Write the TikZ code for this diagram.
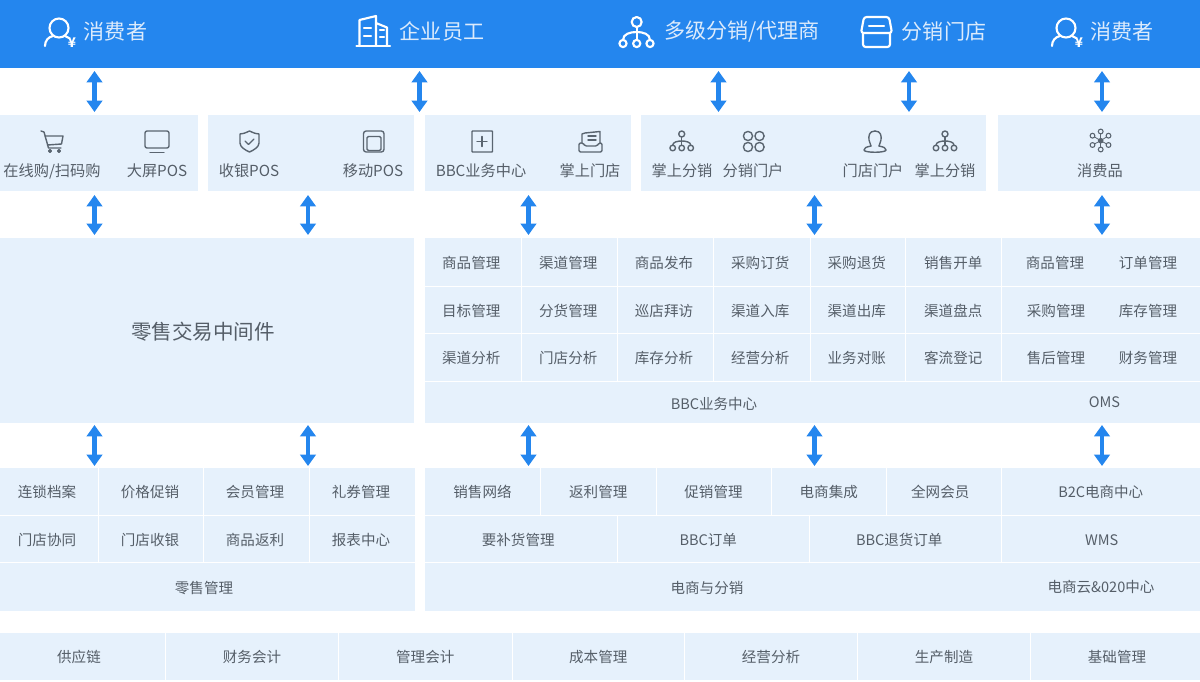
\documentclass[tikz,border=0pt]{standalone}
\usepackage{fontspec}
\setmainfont{Noto Sans CJK SC}
\usetikzlibrary{arrows.meta}
\definecolor{hdr}{HTML}{2486EE}
\definecolor{hdrtxt}{HTML}{DCEBFC}
\definecolor{panel}{HTML}{E6F1FC}
\definecolor{ink}{HTML}{555E68}
\definecolor{ico}{HTML}{5A6570}
\tikzset{
 cellbox/.style={fill=panel,draw=none,inner sep=0pt,outer sep=0pt,text=ink,font=\fontsize{10.9pt}{12pt}\selectfont,align=center},
 lbl/.style={text=ink,inner sep=0pt,yshift=-0.5pt,font=\fontsize{10.9pt}{12pt}\selectfont},
 lblsm/.style={text=ink,inner sep=0pt,yshift=-0.5pt,font=\fontsize{11.4pt}{12pt}\selectfont},
 biglbl/.style={text=ink,inner sep=0pt,yshift=-0.5pt,font=\fontsize{15.4pt}{17pt}\selectfont},
 hdrlbl/.style={text=hdrtxt,inner sep=0pt,yshift=-0.5pt,font=\fontsize{15.8pt}{17pt}\selectfont},
 yen/.style={text=white,inner sep=0pt,font=\fontsize{10pt}{10pt}\selectfont\bfseries},
 biarrow/.style={draw=hdr,line width=3.4pt,{Triangle[width=11.5pt,length=8.5pt]}-{Triangle[width=11.5pt,length=8.5pt]},shorten >=0pt,shorten <=0pt},
 hico/.style={draw=white,line width=1.6pt,line cap=round,line join=round},
 gico/.style={draw=ico,line width=1.05pt,line cap=round,line join=round},
}
% [text shift in px] name, x1, y1, x2, y2, text (pixel coordinates)
\newcommand\cell[7][0]{%
 \pgfmathsetmacro\cw{(#5-#3)*0.75}\pgfmathsetmacro\ch{(#6-#4)*0.75}\pgfmathsetmacro\ck{1.5*#1}%
 \node[cellbox,minimum width=\cw pt,minimum height=\ch pt] (#2) at ({(#3+#5)/2},{(#4+#6)/2}) {\kern\ck pt\raisebox{0pt}[9.4pt][0pt]{#7}};}
\newcommand\biarr[4]{%
 \coordinate (#1t) at (#2,#3); \coordinate (#1b) at (#2,#4);
 \draw[biarrow] (#1t) -- (#1b);}
\newcommand\iconuser[1]{\begin{scope}[shift={(#1,0)}]
 \draw[hico] (59,28) circle[radius=9.5];
 \draw[hico] (45,46) .. controls (45,41) and (48,37) .. (53,36);
 \draw[hico] (65,36) -- (69,38);
 \end{scope}}
\newcommand\icontree[2]{\begin{scope}[shift={(#1,#2)}]
 \draw[gico] (0,-7) circle[radius=3];
 \foreach \xx in {-9,0,9} \draw[gico] (\xx,7) circle[radius=2.8];
 \draw[gico] (0,-4) -- (0,4.2);
 \draw[gico] (-9,4.2) .. controls (-9,1) and (-4,0) .. (0,0) .. controls (4,0) and (9,1) .. (9,4.2);
 \end{scope}}
\begin{document}
\begin{tikzpicture}[x=0.75pt,y=-0.75pt]
\useasboundingbox (0,0) rectangle (1200,682);
% header band
\fill[hdr] (0,0) rectangle (1200,67.5);
\iconuser{0}
\node[yen] (yena) at (72,42.5) {¥};
\node[hdrlbl] (h1) at (115.5,31) {消费者};
% building
\draw[hico] (356.5,46) -- (390,46);
\draw[hico] (359.5,46) -- (359.5,20) -- (376,16) -- (376,46);
\draw[hico] (376,23) -- (387,27.5) -- (387,46);
\draw[hico] (364,28) -- (371,28) (364,36) -- (371,36) (380,30) -- (384,30) (380,37) -- (384,37);
\node[hdrlbl] (h2) at (442,31) {企业员工};
% network
\draw[hico] (636.7,22) circle[radius=5];
\foreach \xx in {623,636.7,650} \draw[hico] (\xx,43.5) circle[radius=3.6];
\draw[hico] (636.7,27) -- (636.7,40);
\draw[hico] (623,40) .. controls (623,34) and (630,32) .. (636.7,32) .. controls (643,32) and (650,34) .. (650,40);
\node[hdrlbl] (h3) at (742,31) {多级分销/代理商};
% store
\draw[hico,rounded corners=2pt] (861,33) -- (864,17) -- (889,17) -- (892,33) -- cycle;
\draw[hico,rounded corners=2pt] (863,33) -- (863,47) -- (890,47) -- (890,33);
\draw[hico] (869,26) -- (884,26);
\node[hdrlbl] (h4) at (944,31) {分销门店};
\iconuser{1007}
\node[yen] (yenb) at (1079,42.5) {¥};
\node[hdrlbl] (h5) at (1122,31) {消费者};
% arrows
\biarr{a1}{94.5}{71}{112}\biarr{a2}{419.5}{71}{112}\biarr{a3}{718.5}{71}{112}\biarr{a4}{909}{71}{112}\biarr{a5}{1102}{71}{112}
\biarr{b1}{94.5}{195}{235}\biarr{b2}{308}{195}{235}\biarr{b3}{528.5}{195}{235}\biarr{b4}{814.5}{195}{235}\biarr{b5}{1102}{195}{235}
\biarr{c1}{94.5}{425}{466}\biarr{c2}{308}{425}{466}\biarr{c3}{528.5}{425}{466}\biarr{c4}{814.5}{425}{466}\biarr{c5}{1102}{425}{466}
% channel panels
\cell{p1}{0}{115}{197.5}{191}{}
\cell{p2}{208}{115}{414}{191}{}
\cell{p3}{425}{115}{630.5}{191}{}
\cell{p4}{641}{115}{985.5}{191}{}
\cell{p5}{998}{115}{1200}{191}{}
\node[lblsm] (t1) at (52,170.5) {在线购/扫码购};
\node[lblsm] (t2) at (157,170.5) {大屏POS};
\node[lblsm] (t3) at (249,170.5) {收银POS};
\node[lblsm] (t4) at (373,170.5) {移动POS};
\node[lblsm] (t5) at (481,170.5) {BBC业务中心};
\node[lblsm] (t6) at (590,170.5) {掌上门店};
\node[lblsm] (t7) at (682,170.5) {掌上分销};
\node[lblsm] (t8) at (753,170.5) {分销门户};
\node[lblsm] (t9) at (873,170.5) {门店门户};
\node[lblsm] (t10) at (945,170.5) {掌上分销};
\node[lblsm] (t11) at (1100,170.5) {消费品};
% cart
\draw[gico] (41,131) -- (44,132) -- (48.5,148) -- (61,148);
\draw[gico] (45,136) -- (63,136) -- (61.5,144) -- (47.5,145);
\draw[gico] (50,151) circle[radius=1.3] (59,151) circle[radius=1.3];
% monitor
\draw[gico,rounded corners=1.5pt] (145,131) rectangle (169,148);
\draw[gico] (150,152.5) -- (164,152.5);
% shield
\draw[gico] (249.5,131) .. controls (245,133) and (243,134) .. (240,134) -- (240,143) .. controls (240,147) and (245,150) .. (249.5,152) .. controls (254,150) and (259,147) .. (259,143) -- (259,134) .. controls (256,134) and (254,133) .. (249.5,131) -- cycle;
\draw[gico] (245,141) -- (248.5,144.5) -- (254,139);
% window
\draw[gico,rounded corners=2pt] (363.5,131) rectangle (384,152);
\draw[gico,rounded corners=1pt] (367,136.5) rectangle (381,150.5);
% plus box
\draw[gico,rounded corners=0.5pt] (472,131) rectangle (492.5,152);
\draw[gico] (482,136.5) -- (482,146.5) (477,141.5) -- (487,141.5);
% inbox
\draw[gico,rounded corners=1pt] (579,143) -- (583,143) -- (585,146) -- (597,146) -- (599,143) -- (602,143) -- (602,152) -- (579,152) -- cycle;
\draw[gico] (582,143) -- (582,134) -- (585,133) -- (600,131.5) -- (600,143);
\draw[gico] (588,136) -- (596,136) (588,140) -- (596,140);
% trees
\icontree{681.7}{141}
\icontree{945}{141}
% quad
\foreach \xx/\yy in {748/136,759.5/136,748/147,759.5/147}{\draw[gico] (\xx,\yy) circle[radius=4.6];}
% person
\draw[gico] (875,131) .. controls (869,131) and (868.5,136) .. (869,140) .. controls (869.3,143) and (871,144) .. (871,146);
\draw[gico] (875,131) .. controls (881,131) and (881.5,136) .. (881,140) .. controls (880.7,143) and (879,144) .. (879,146);
\draw[gico] (871,146) .. controls (866,147) and (864,148) .. (864,150) .. controls (864,153) and (886,153) .. (886,150) .. controls (886,148) and (884,147) .. (879,146);
% molecule
\fill[ico] (1100.7,140.7) circle[radius=2.8];
\foreach \xx/\yy in {1100.7/131.5,1092.5/135.7,1108.5/135.7,1092.5/145,1108.5/145,1100.7/149.5}{
 \draw[ico,line width=.6pt] (1100.7,140.7) -- (\xx,\yy);
 \draw[ico,line width=.8pt,fill=panel] (\xx,\yy) circle[radius=2.4];}
% middleware
\cell{mw}{0}{238}{414}{422.5}{}
\node[biglbl] (mwt) at (203,331) {零售交易中间件};
% business grid
\cell[-1.5]{g11}{425}{238}{520.5}{285.5}{商品管理}
\cell[-1]{g12}{521.5}{238}{617}{285.5}{渠道管理}
\cell[-1.5]{g13}{618}{238}{713}{285.5}{商品发布}
\cell[-1.5]{g14}{714}{238}{809.5}{285.5}{采购订货}
\cell[-1]{g15}{810.5}{238}{905}{285.5}{采购退货}
\cell{g16}{906}{238}{1000.5}{285.5}{销售开单}
\cell[-1.5]{g21}{425}{286.5}{520.5}{333}{目标管理}
\cell[-1]{g22}{521.5}{286.5}{617}{333}{分货管理}
\cell[-1.5]{g23}{618}{286.5}{713}{333}{巡店拜访}
\cell[-1.5]{g24}{714}{286.5}{809.5}{333}{渠道入库}
\cell[-1]{g25}{810.5}{286.5}{905}{333}{渠道出库}
\cell{g26}{906}{286.5}{1000.5}{333}{渠道盘点}
\cell[-1.5]{g31}{425}{334}{520.5}{380.5}{渠道分析}
\cell[-1]{g32}{521.5}{334}{617}{380.5}{门店分析}
\cell[-1.5]{g33}{618}{334}{713}{380.5}{库存分析}
\cell[-1.5]{g34}{714}{334}{809.5}{380.5}{经营分析}
\cell[-1]{g35}{810.5}{334}{905}{380.5}{业务对账}
\cell{g36}{906}{334}{1000.5}{380.5}{客流登记}
\cell{o1}{1001.5}{238}{1200}{285.5}{}
\cell{o2}{1001.5}{286.5}{1200}{333}{}
\cell{o3}{1001.5}{334}{1200}{380.5}{}
\node[lbl] (o1a) at (1055,262) {商品管理};
\node[lbl] (o1b) at (1148,262) {订单管理};
\node[lbl] (o2a) at (1056,310) {采购管理};
\node[lbl] (o2b) at (1148,310) {库存管理};
\node[lbl] (o3a) at (1056,357) {售后管理};
\node[lbl] (o3b) at (1148,357) {财务管理};
\cell{g4}{425}{381.5}{1200}{422.5}{}
\node[lbl] (g4a) at (714,403) {BBC业务中心};
\node[lbl] (g4b) at (1104.5,402) {OMS};
% retail
\cell[-2]{r11}{0}{468}{98}{515}{连锁档案}
\cell[-1]{r12}{99}{468}{203}{515}{价格促销}
\cell[-1.5]{r13}{204}{468}{309}{515}{会员管理}
\cell[-1.5]{r14}{310}{468}{415}{515}{礼券管理}
\cell[-2]{r21}{0}{516}{98}{562}{门店协同}
\cell[-1]{r22}{99}{516}{203}{562}{门店收银}
\cell[-1.5]{r23}{204}{516}{309}{562}{商品返利}
\cell[-1.5]{r24}{310}{516}{415}{562}{报表中心}
\cell[-3.5]{r3}{0}{563}{415}{611}{零售管理}
% commerce
\cell{e11}{425}{468}{540}{515}{销售网络}
\cell{e12}{541}{468}{655.5}{515}{返利管理}
\cell{e13}{656.5}{468}{770.5}{515}{促销管理}
\cell{e14}{771.5}{468}{886}{515}{电商集成}
\cell[-3.5]{e15}{887}{468}{1000.5}{515}{全网会员}
\cell{e16}{1001.5}{468}{1200}{515}{B2C电商中心}
\cell[-2.5]{e21}{425}{516}{616.5}{562}{要补货管理}
\cell[-5]{e22}{617.5}{516}{809}{562}{BBC订单}
\cell[-6]{e23}{810}{516}{1000.5}{562}{BBC退货订单}
\cell[1]{e24}{1001.5}{516}{1200}{562}{WMS}
\cell{e3}{425}{563}{1200}{611}{}
\node[lbl] (e3a) at (707,587) {电商与分销};
\node[lbl] (e3b) at (1101,586) {电商云\&020中心};
% foundation
\cell[-3.5]{f1}{0}{632.5}{165}{680}{供应链}
\cell{f2}{166}{632.5}{338}{680}{财务会计}
\cell{f3}{339}{632.5}{511.5}{680}{管理会计}
\cell{f4}{512.5}{632.5}{684}{680}{成本管理}
\cell{f5}{685}{632.5}{857}{680}{经营分析}
\cell{f6}{858}{632.5}{1030}{680}{生产制造}
\cell[1.5]{f7}{1031}{632.5}{1200}{680}{基础管理}
\end{tikzpicture}
\end{document}
